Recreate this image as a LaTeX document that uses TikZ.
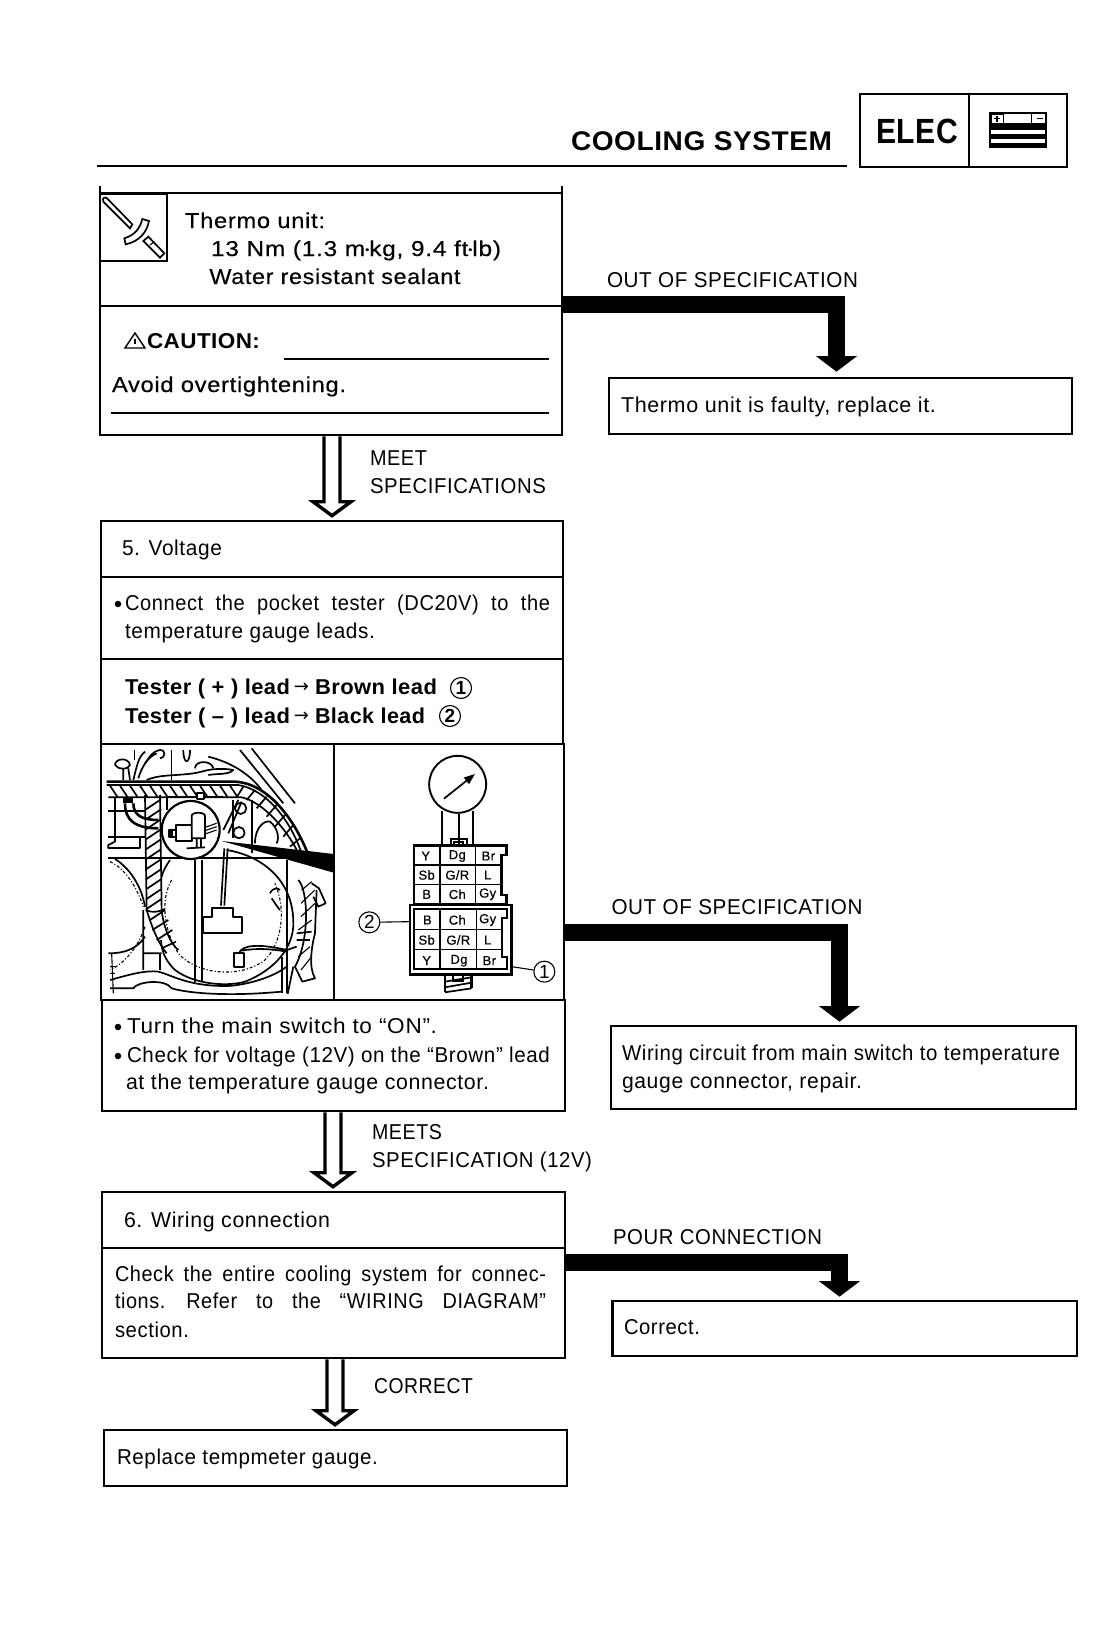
\documentclass[tikz,border=0pt]{standalone}
\usepackage{graphicx}
\usepackage{fontspec}
\usetikzlibrary{arrows.meta,fit,calc}
\setmainfont{Liberation Sans}
\newfontfamily\frg{Liberation Sans}[LetterSpace=3]
\newfontfamily\fmd{Liberation Sans}[LetterSpace=3,FakeBold=0.35]
\newfontfamily\fbd{Liberation Sans}[LetterSpace=2,UprightFont=* Bold]
\newfontfamily\farr{DejaVu Sans}
\newcommand\trg{\frg\fontsize{21.5}{25}\selectfont}
\newcommand\tmd{\fmd\fontsize{21.5}{25}\selectfont}
\newcommand\tbd{\fbd\fontsize{21.5}{25}\selectfont}
\newcommand\tx[6]{\node[labeltext] (#1) at (#2,#3) {\resizebox*{#4pt}{\totalheight}{#5#6}};}
\newcommand\bx[6][boxst]{\coordinate (#2p) at (#3,#4); \coordinate (#2q) at (#5,#6); \node[#1,fit=(#2p)(#2q)] (#2) {};}
\newcommand\openconn[3]{%
  \coordinate (ua) at (#3,0);
  \coordinate (us) at (ua |- #1.south);
  \coordinate (ut) at (ua |- #2.north);
  \coordinate (ut) at ([yshift=4pt]ut);
  \coordinate (uw) at ([yshift=14pt]ut);
  \draw[openline] ([xshift=-8pt]us) -- ([xshift=-8pt]uw) -- ([xshift=-19pt]uw) -- (ut) -- ([xshift=19pt]uw) -- ([xshift=8pt]uw) -- ([xshift=8pt]us);
}
\tikzset{
  boxst/.style={draw=black,line width=2.6pt,inner sep=0pt,fill=white},
  labeltext/.style={anchor=base west,inner sep=0pt,outer sep=0pt,text=black},
  openline/.style={draw=black,line width=3.4pt,line join=miter},
  fatline/.style={draw=black,line width=17pt,line join=miter,-{Triangle[length=15.5pt,width=40pt]}},
  thin1/.style={line width=1.1pt},
  thin2/.style={line width=1.7pt},
  thin3/.style={line width=2.6pt},
  cnum/.style={circle,draw=black,line width=1.1pt,inner sep=0pt,minimum size=21pt,font=\fontsize{19}{19}\selectfont},
  ccell/.style={inner sep=0pt,font=\fmd\fontsize{13}{14}\selectfont},
  bulletdot/.style={circle,fill=black,inner sep=0pt,minimum size=6.5pt}
}
\begin{document}
\begin{tikzpicture}[x=1pt,y=-1pt,line cap=butt]
\useasboundingbox[fill=white] (0,0) rectangle (1103,1648);

% header
\draw[line width=2.8pt] (97,166) coordinate (hl) -- (847,166) coordinate (hr);
\tx{title}{571}{150}{261}{\fbd\fontsize{27}{30}\selectfont}{COOLING SYSTEM}
\bx{elec}{860}{94}{1067}{167}
\draw[thin2] (969,94) -- (969,167);
\tx{elect}{876}{144}{82}{\fbd\fontsize{35}{40}\selectfont}{ELEC}
\begin{scope}[shift={(820,80)},x=0.3333pt,y=-0.3333pt]
\fill (508,96) rectangle (680,205);
\fill[white] (514,103) rectangle (675,130);
\fill[white] (514,150) rectangle (675,162);
\fill[white] (514,178) rectangle (675,190);
\draw[thin1] (514,103) rectangle (550,130);
\draw[thin1] (635,103) -- (635,130);
\draw[thin1] (522,116) -- (540,116) (531,108) -- (531,125);
\draw[thin1] (650,116) -- (668,116);
\end{scope}

% box 1
\bx{ba}{100}{193}{562}{306}
\bx{bb}{100}{306}{562}{435}
\draw[thin3] (100,186) -- (100,196) (562,186) -- (562,196);
\draw[thin3] (100,194) rectangle (167,261);
\begin{scope}[shift={(95,185)},x=0.3333pt,y=-0.3333pt]
\draw[thin2,fill=white] (25,50) .. controls (20,38) and (32,33) .. (38,42) -- (112,118) -- (105,130) -- cycle;
\draw[thin2,fill=white] (88,160) .. controls (120,150) and (135,130) .. (142,102) -- (162,108) .. controls (155,145) and (130,170) .. (92,178) -- cycle;
\draw[thin2,fill=white] (145,168) -- (160,155) -- (208,205) -- (195,218) -- cycle;
\draw[thin1] (165,180) -- (178,170);
\end{scope}
\tx{tha}{185}{228}{140}{\tmd}{Thermo unit:}
\tx{thb}{211}{256}{290}{\tmd}{13 Nm (1.3 m\raisebox{3pt}{\fontsize{10}{10}\selectfont•}kg, 9.4 ft\raisebox{3pt}{\fontsize{10}{10}\selectfont•}lb)}
\tx{thc}{209.5}{284}{251}{\tmd}{Water resistant sealant}
\draw[line width=1.4pt,line join=miter] (125,348) -- (135,333) -- (145,348) -- cycle;
\draw[line width=1.2pt] (135,338.5) -- (135,344);
\tx{caut}{147}{348}{113}{\tbd}{CAUTION:}
\draw[thin3] (284,359) -- (549,359);
\tx{avoid}{112}{392}{234}{\tmd}{Avoid overtightening.}
\draw[thin3] (111,413) -- (549,413);

% out of spec 1
\tx{oos1}{607}{287}{251}{\trg}{OUT OF SPECIFICATION}
\bx{fa}{609}{378}{1072}{434}
\tx{fat}{621}{412}{315}{\trg}{Thermo unit is faulty, replace it.}
\coordinate (c1) at (836.5,304.5);
\coordinate (t1) at (c1 |- fa.north);
\draw[fatline,shorten >=5pt] (ba.east |- c1) -- (c1) -- (t1);

% open 1
\tx{m1}{370}{465}{57}{\trg}{MEET}
\tx{m2}{370}{493}{176}{\trg}{SPECIFICATIONS}

% box 5
\bx{c1a}{101}{521}{563}{577}
\bx{c1b}{101}{577}{563}{659}
\bx{c1c}{101}{659}{563}{744}
\bx{c1d}{101}{744}{334}{1000}
\bx{c1e}{334}{744}{564}{1000}
\bx{c1f}{102}{1000}{565}{1111}
\openconn{bb}{c1a}{332}
\tx{v}{122}{555}{100}{\trg}{5. Voltage}
\node[bulletdot] (bul1) at (118,604) {};
\tx{cn1}{125}{610}{425}{\trg\spaceskip=0.62em\relax}{Connect the pocket tester (DC20V) to the}
\tx{cn2}{125}{638}{250}{\trg}{temperature gauge leads.}
\tx{t1a}{125}{694}{165}{\tbd}{Tester ( + ) lead}
\tx{t1b}{315}{694}{122}{\tbd}{Brown lead}
\node[inner sep=0pt,font=\farr\fontsize{18}{18}\selectfont] (ar1) at (301.5,688) {→};
\node[cnum] (n1a) at (461,688) {\textbf{1}};
\tx{t2a}{125}{723}{165}{\tbd}{Tester ( – ) lead}
\tx{t2b}{315}{723}{110}{\tbd}{Black lead}
\node[inner sep=0pt,font=\farr\fontsize{18}{18}\selectfont] (ar2) at (301.5,717) {→};
\node[cnum] (n2a) at (450,716) {\textbf{2}};

% left illustration
\begin{scope}[shift={(95,740)},x=0.3333pt,y=-0.3333pt,line join=round]
\draw[thin2] (60,75) .. controls (60,55) and (100,50) .. (105,75) .. controls (100,90) and (70,90) .. (60,75);
\draw[thin2] (85,85) -- (85,120) (100,85) -- (105,120);
\draw[thin2] (115,120) .. controls (125,80) and (130,50) .. (150,35) (130,115) .. controls (140,80) and (160,50) .. (185,40);
\draw[thin2] (150,70) .. controls (165,50) and (170,35) .. (195,30) .. controls (215,30) and (210,55) .. (195,55);
\draw[thin1] (118,30) -- (118,60) (230,30) -- (230,120);
\draw[thin2] (265,30) .. controls (265,75) and (285,75) .. (285,30);
\draw[thin2] (155,120) .. controls (200,100) and (260,110) .. (320,95) .. controls (350,85) and (390,85) .. (415,90) .. controls (400,105) and (370,100) .. (340,105);
\draw[thin2] (300,85) .. controls (300,60) and (350,60) .. (355,85);
\draw[thin2] (340,50) .. controls (420,70) and (470,110) .. (500,150);
\draw[thin2] (435,30) -- (565,190) (470,25) -- (600,190);
% horizontal band
\draw[thin3] (35,125) -- (420,125) .. controls (520,130) and (600,240) .. (640,345);
\draw[thin2] (35,135) -- (430,135) .. controls (520,150) and (590,250) .. (620,340);
\draw[thin2] (40,172) -- (440,172) .. controls (500,185) and (570,260) .. (608,335);
\foreach \a in {45,75,...,405} {\draw[thin2] (\a,137) -- (\a+22,170);}
\draw[thin2] (445,140) -- (425,172) (480,150) -- (455,180) (515,170) -- (485,205) (545,195) -- (515,230) (570,225) -- (540,260) (595,255) -- (565,290) (615,295) -- (585,320);
% vertical band
\draw[thin2] (150,165) -- (155,510) .. controls (170,560) and (190,610) .. (215,640);
\draw[thin2] (195,165) -- (200,510) .. controls (205,560) and (225,610) .. (250,630);
\foreach \a in {190,220,...,490} {\draw[thin2] (153,\a+18) -- (198,\a-12);}
\draw[thin2] (165,540) -- (210,510) (172,570) -- (220,540) (185,600) -- (232,570) (200,625) -- (243,605);
\draw[thin2] (152,510) .. controls (170,520) and (195,515) .. (210,507);
% left parts
\draw[thin3] (90,190) .. controls (90,240) and (120,265) .. (190,265) (115,190) .. controls (115,225) and (140,240) .. (190,240);
\fill (85,175) rectangle (115,188);
\draw[thin2] (40,212) -- (150,212) (40,290) -- (150,290) (60,175) -- (60,290) (40,325) -- (135,325);
\draw[thin2] (60,290) -- (60,305) -- (40,315) -- (40,325) (135,290) -- (135,325);
\draw[thin2] (40,355) -- (575,355) (215,172) -- (215,210) (215,172) -- (385,172);
% circle
\draw[line width=2.2pt,fill=white] (287,270) circle (87);
\draw[thin2,fill=white] (305,158) rectangle (328,178);
\draw[thin2,fill=white] (243,255) rectangle (290,303);
\draw[thin2,fill=white] (290,228) .. controls (290,215) and (330,215) .. (330,228) -- (330,295) -- (290,295) -- cycle;
\draw[thin2] (222,270) rectangle (243,292);
\fill (222,273) rectangle (235,290);
\draw[thin1] (330,262) -- (365,250) (330,272) -- (365,260) (330,282) -- (365,270);
\draw[thin2] (305,295) -- (305,325) (318,295) -- (318,325) (275,325) -- (330,322);
% right parts
\draw[thin2] (385,270) -- (430,180) (400,280) -- (440,185);
\draw[thin2] (437,205) circle (17) (432,278) circle (17);
\draw[thin2] (415,180) -- (415,295) (470,180) -- (470,340);
\draw[thin2] (480,310) .. controls (480,260) and (510,240) .. (525,245) .. controls (545,260) and (555,290) .. (545,310);
\fill (380,303) -- (716,342) -- (716,398) -- cycle;
% wire + connector
\draw[thin2] (388,325) -- (378,497) (398,325) -- (388,497);
\draw[thin2] (325,580) -- (325,530) -- (350,530) -- (350,505) -- (415,505) -- (415,530) -- (440,530) -- (440,580) -- cycle;
\draw[thin2] (300,360) -- (300,725) (322,360) -- (322,725);
\draw[thin2] (575,360) -- (575,760) (562,650) -- (562,760);
% big round
\draw[thin2] (395,330) .. controls (490,345) and (590,410) .. (595,540) .. controls (600,620) and (540,690) .. (450,725) .. controls (400,740) and (300,735) .. (240,690) .. controls (215,665) and (200,640) .. (198,600);
\draw[thin2] (225,360) .. controls (215,375) and (205,390) .. (200,410);
\draw[thin2] (60,357) .. controls (105,385) and (140,440) .. (150,500);
\draw[thin1,dash dot] (230,420) .. controls (200,470) and (200,560) .. (250,640) .. controls (300,700) and (430,720) .. (510,660) .. controls (560,610) and (575,510) .. (540,430);
\draw[thin1,dash dot] (45,365) .. controls (90,385) and (125,440) .. (145,500);
\draw[thin1,dash dot] (150,560) .. controls (130,620) and (90,670) .. (45,690);
\draw[thin2] (525,460) .. controls (535,440) and (550,445) .. (555,450) (530,475) .. controls (540,490) and (550,505) .. (555,510);
% small part
\draw[thin2] (417,640) rectangle (447,680);
\draw[thin2] (432,640) .. controls (440,615) and (490,610) .. (575,630) (440,632) .. controls (480,625) and (520,625) .. (575,635);
% right hatched band
\draw[thin2] (610,420) .. controls (640,450) and (645,600) .. (600,680) -- (622,725) -- (660,715) .. controls (640,680) and (650,620) .. (660,580) -- (665,450);
\draw[thin1] (620,450) -- (650,425) (618,490) -- (660,450) (618,530) -- (660,490) (610,570) -- (650,540) (610,650) -- (645,620) (618,690) -- (650,650);
\draw[thin2] (650,430) -- (672,445) -- (692,490) -- (670,500) -- (655,470) (605,580) -- (650,575) (605,600) -- (645,600);
\draw[thin2] (595,680) -- (578,762) (605,620) -- (570,632);
% bottom
\draw[thin2] (45,720) .. controls (100,705) and (150,690) .. (190,695) .. controls (230,705) and (280,740) .. (400,738) .. controls (450,735) and (530,715) .. (575,680);
\draw[thin2] (45,745) -- (115,745) .. controls (125,725) and (210,715) .. (230,745) .. controls (280,760) and (400,770) .. (560,755);
\draw[thin1] (50,640) -- (55,760) (45,700) -- (60,700) (45,680) -- (60,680);
\draw[thin2] (145,640) -- (200,640) (145,510) -- (145,690) (195,640) -- (195,690) (40,640) .. controls (100,640) and (130,620) .. (150,590);
\end{scope}

% right illustration
\begin{scope}[shift={(335,740)},x=0.3333pt,y=-0.3333pt,line join=miter]
\draw[thin2] (322,212) -- (322,315) (372,222) -- (372,315) (415,212) -- (415,315);
\node[circle,draw=black,line width=1.9pt,minimum size=57pt,inner sep=0pt,fill=white] (dial) at (368,133) {};
\draw[thin2,-{Triangle[length=11pt,width=8pt]}] (327,176) -- (420,102);
\draw[thin2] (347,315) -- (347,297) -- (395,297) -- (395,315) (358,315) -- (358,305) -- (385,305) -- (385,315);
% upper connector
\draw[thin3] (237,317) -- (515,317) -- (515,345) -- (500,345) -- (500,465) -- (515,465) -- (515,493) -- (237,493) -- cycle;
\draw[thin1] (315,317) -- (315,493) (422,317) -- (422,493) (237,375) -- (500,375) (237,433) -- (500,433);
\node[ccell] (u1) at (272,348) {Y};
\node[ccell] (u2) at (367,348) {Dg};
\node[ccell] (u3) at (460,348) {Br};
\node[ccell] (u4) at (275,405) {Sb};
\node[ccell] (u5) at (367,405) {G/R};
\node[ccell] (u6) at (458,405) {L};
\node[ccell] (u7) at (275,463) {B};
\node[ccell] (u8) at (367,463) {Ch};
\node[ccell] (u9) at (458,463) {Gy};
% lower connector
\draw[thin3] (225,495) rectangle (530,703);
\draw[thin2] (237,507) -- (515,507) -- (515,535) -- (500,535) -- (500,650) -- (515,650) -- (515,687) -- (237,687) -- cycle;
\draw[thin1] (315,507) -- (315,687) (425,507) -- (425,687) (237,568) -- (500,568) (237,628) -- (500,628);
\node[ccell] (l1) at (277,540) {B};
\node[ccell] (l2) at (367,540) {Ch};
\node[ccell] (l3) at (458,540) {Gy};
\node[ccell] (l4) at (275,600) {Sb};
\node[ccell] (l5) at (370,600) {G/R};
\node[ccell] (l6) at (458,600) {L};
\node[ccell] (l7) at (275,662) {Y};
\node[ccell] (l8) at (372,662) {Dg};
\node[ccell] (l9) at (463,662) {Br};
% leaders
\node[cnum] (n2b) at (103,547) {2};
\node[cnum] (n1b) at (628,695) {1};
\coordinate (lc2) at (225,545);
\coordinate (lc1) at (530,680);
\draw[thin1] (n2b) -- (lc2);
\draw[thin1] (lc1) -- (n1b);
% stub
\draw[thin2] (355,705) -- (355,722) -- (385,722) -- (385,705);
\draw[thin3] (330,705) -- (330,757) (410,705) -- (410,745);
\draw[thin2] (330,725) -- (410,712) (330,742) -- (410,728) (330,757) -- (410,745);
\end{scope}

% out of spec 2
\tx{t31}{127}{1033}{310}{\trg}{Turn the main switch to “ON”.}
\node[bulletdot] (bul2) at (118,1027) {};
\tx{t32}{127}{1062}{423}{\trg}{Check for voltage (12V) on the “Brown” lead}
\node[bulletdot] (bul3) at (118,1056) {};
\tx{t33}{126}{1089}{363}{\trg}{at the temperature gauge connector.}
\tx{oos2}{611.5}{914}{251}{\trg}{OUT OF SPECIFICATION}
\bx{wr}{611}{1026}{1076}{1109}
\tx{wr1}{622}{1060}{438}{\trg}{Wiring circuit from main switch to temperature}
\tx{wr2}{622}{1088}{240}{\trg}{gauge connector, repair.}
\coordinate (c2) at (839.5,932);
\coordinate (t2) at (c2 |- wr.north);
\draw[fatline,shorten >=3pt] (c1e.east |- c2) -- (c2) -- (t2);

% box 6
\bx{da}{102}{1192}{565}{1248}
\bx{db}{102}{1248}{565}{1358}
\openconn{c1f}{da}{333}
\tx{m3}{372}{1139}{70}{\trg}{MEETS}
\tx{m4}{372}{1167}{220}{\trg}{SPECIFICATION (12V)}
\tx{w6}{124}{1227}{206}{\trg}{6. Wiring connection}
\tx{d1}{115}{1281}{431}{\trg\spaceskip=0.5em\relax}{Check the entire cooling system for connec-}
\tx{d2}{115}{1308}{431}{\trg\spaceskip=0.95em\relax}{tions. Refer to the “WIRING DIAGRAM”}
\tx{d3}{115}{1337}{74}{\trg}{section.}
\tx{pour}{613}{1244}{209}{\trg}{POUR CONNECTION}
\bx{co}{612.5}{1301}{1077}{1356}
\tx{cot}{624}{1334}{76}{\trg}{Correct.}
\coordinate (c3) at (839.5,1262);
\coordinate (t3) at (c3 |- co.north);
\draw[fatline,shorten >=3pt] (db.east |- c3) -- (c3) -- (t3);

% last
\bx{re}{104}{1430}{567}{1486}
\openconn{db}{re}{335}
\tx{cort}{374}{1393}{99}{\trg}{CORRECT}
\tx{ret}{117}{1464}{261}{\trg}{Replace tempmeter gauge.}
\end{tikzpicture}
\end{document}
